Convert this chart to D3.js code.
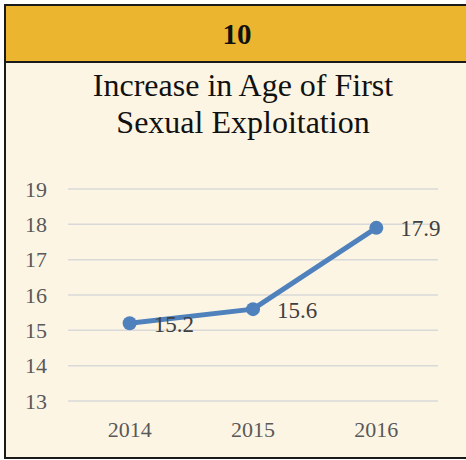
<!DOCTYPE html>
<html>
<head>
<meta charset="utf-8">
<script src="https://cdn.jsdelivr.net/npm/d3@7"></script>
<style>
  html, body { margin: 0; padding: 0; background: #ffffff; }
  svg { display: block; }
  svg text { font-family: "Liberation Serif", "Times New Roman", serif; }
</style>
</head>
<body>
<svg id="chart" width="466" height="460"></svg>
<script>
// Chart data
const years = ["2014", "2015", "2016"];
const ages = [15.2, 15.6, 17.9];
const yTicks = [13, 14, 15, 16, 17, 18, 19];
const headerLabel = "10";
const titleLines = ["Increase in Age of First", "Sexual Exploitation"];

const svg = d3.select("#chart");
const W = 466, H = 460;

// Panel background and header band
svg.append("rect").attr("x", 5).attr("y", 5).attr("width", W - 5).attr("height", 453)
  .attr("fill", "#fdf5e4");
svg.append("rect").attr("x", 5).attr("y", 5).attr("width", W - 5).attr("height", 57)
  .attr("fill", "#ebb530");

// Frame lines
const frame = svg.append("g").attr("stroke", "#1a1a1a").attr("stroke-width", 2);
frame.append("line").attr("x1", 5).attr("x2", W).attr("y1", 5).attr("y2", 5);
frame.append("line").attr("x1", 5).attr("x2", W).attr("y1", 62).attr("y2", 62);
frame.append("line").attr("x1", 5).attr("x2", W).attr("y1", 458).attr("y2", 458);
frame.append("line").attr("x1", 5).attr("x2", 5).attr("y1", 4).attr("y2", 459);

svg.append("text")
  .attr("x", 237).attr("y", 44)
  .attr("text-anchor", "middle")
  .style("font-weight", "bold").style("font-size", "29px")
  .attr("fill", "#111")
  .text(headerLabel);

// Title
svg.append("g").selectAll("text").data(titleLines).join("text")
  .attr("x", 243).attr("y", (d, i) => 96 + i * 37)
  .attr("text-anchor", "middle")
  .style("font-size", "32px")
  .attr("fill", "#111")
  .text(d => d);

// Scales
const x = d3.scaleBand().domain(years).range([68, 438]).padding(0);
const y = d3.scaleLinear().domain([13, 19]).range([401, 189]);
const cx = d => x(d) + x.bandwidth() / 2;

// Gridlines
svg.append("g").selectAll("line").data(yTicks).join("line")
  .attr("x1", 68).attr("x2", 438)
  .attr("y1", d => y(d)).attr("y2", d => y(d))
  .attr("stroke", "#d9d9d9").attr("stroke-width", 1.5);

// Y axis labels
const yAxis = svg.append("g").attr("transform", "translate(56,0)")
  .call(d3.axisLeft(y).tickValues(yTicks).tickSize(0).tickPadding(9).tickFormat(d3.format("d")));
yAxis.attr("font-family", null);
yAxis.select(".domain").remove();
yAxis.selectAll("text").style("font-size", "22px").attr("fill", "#595959");

// X axis labels
const xAxis = svg.append("g").attr("transform", "translate(0,437)")
  .call(d3.axisBottom(x).tickSize(0).tickPadding(0));
xAxis.attr("font-family", null);
xAxis.select(".domain").remove();
xAxis.selectAll("text").attr("dy", 0).style("font-size", "22px").attr("fill", "#595959");

// Series
const pts = years.map((yr, i) => ({ yr, v: ages[i] }));
svg.append("path").datum(pts)
  .attr("d", d3.line().x(d => cx(d.yr)).y(d => y(d.v)))
  .attr("fill", "none").attr("stroke", "#4f81bd").attr("stroke-width", 5)
  .attr("stroke-linejoin", "round");
svg.append("g").selectAll("circle").data(pts).join("circle")
  .attr("cx", d => cx(d.yr)).attr("cy", d => y(d.v)).attr("r", 7)
  .attr("fill", "#4f81bd");

// Data labels
svg.append("g").selectAll("text").data(pts).join("text")
  .attr("x", d => cx(d.yr) + 24).attr("y", d => y(d.v) + 8.5)
  .style("font-size", "23px")
  .attr("fill", "#404040")
  .text(d => d.v.toFixed(1));
</script>
</body>
</html>
